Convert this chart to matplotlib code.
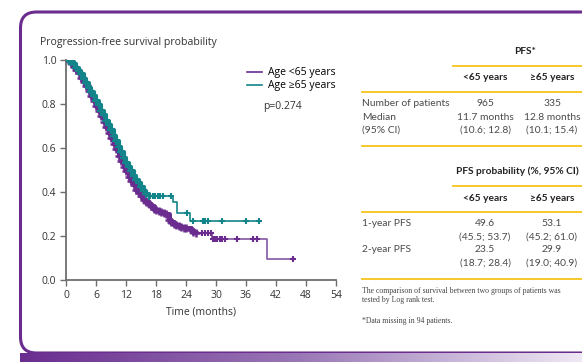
import numpy as np
import matplotlib
matplotlib.use("Agg")
import matplotlib.pyplot as plt
from matplotlib.patches import FancyBboxPatch
from matplotlib.lines import Line2D
from matplotlib.transforms import IdentityTransform
from matplotlib.colors import LinearSegmentedColormap

# ---- Kaplan-Meier estimates (months, survival probability) ----
under65_t = [0, 0.5, 1, 1.5, 2, 2.5, 3, 3.5, 4, 4.5, 5, 5.5, 6, 6.5, 7, 7.5, 8, 8.5, 9, 9.5,
             10, 10.5, 11, 11.5, 12, 12.5, 13, 13.5, 14, 14.5, 15, 15.5, 16, 16.5, 17, 17.5,
             18, 18.5, 19, 19.5, 20, 20.5, 21, 21.5, 22, 22.5, 23, 23.5, 24, 25, 25.5, 26,
             29.3, 40.3, 45.4]
under65_s = [1.0, 0.995, 0.985, 0.97, 0.955, 0.94, 0.92, 0.90, 0.88, 0.86, 0.835, 0.815, 0.79,
             0.77, 0.745, 0.72, 0.695, 0.67, 0.645, 0.62, 0.595, 0.565, 0.54, 0.512, 0.494,
             0.47, 0.45, 0.43, 0.41, 0.395, 0.38, 0.365, 0.355, 0.345, 0.335, 0.325, 0.318,
             0.312, 0.308, 0.305, 0.30, 0.275, 0.262, 0.255, 0.25, 0.245, 0.24, 0.238, 0.235,
             0.228, 0.22, 0.215, 0.186, 0.095, 0.095]
under65_cens = [27.2, 27.8, 28.4, 29.0, 29.4, 29.8, 30.3, 30.8, 31.3, 31.8, 34.2, 37.4, 38.2, 45.4]

over65_t = [0, 0.5, 1, 1.5, 2, 2.5, 3, 3.5, 4, 4.5, 5, 5.5, 6, 6.5, 7, 7.5, 8, 8.5, 9, 9.5,
            10, 10.5, 11, 11.5, 12, 12.5, 13, 13.5, 14, 14.5, 15, 15.5, 16, 16.5,
            21.4, 22.1, 24.8, 38.6]
over65_s = [1.0, 0.995, 0.99, 0.98, 0.965, 0.95, 0.935, 0.915, 0.895, 0.875, 0.855, 0.835,
            0.815, 0.795, 0.77, 0.75, 0.725, 0.705, 0.68, 0.655, 0.63, 0.605, 0.58, 0.555,
            0.531, 0.512, 0.495, 0.475, 0.455, 0.44, 0.425, 0.405, 0.39, 0.383,
            0.356, 0.303, 0.27, 0.27]
over65_cens = [16.8, 17.3, 17.8, 18.3, 18.8, 19.3, 21.0, 24.2, 25.4, 27.4, 27.9, 28.4, 31.2,
               36.0, 38.6]

x_ticks = [0, 6, 12, 18, 24, 30, 36, 42, 48, 54]
y_ticks = [0.0, 0.2, 0.4, 0.6, 0.8, 1.0]

groups = ["<65 years", "\u226565 years"]
n_patients = ["965", "335"]
median_pfs = ["11.7 months", "12.8 months"]
median_ci = ["(10.6; 12.8)", "(10.1; 15.4)"]
pfs_1y = ["49.6", "53.1"]
pfs_1y_ci = ["(45.5; 53.7)", "(45.2; 61.0)"]
pfs_2y = ["23.5", "29.9"]
pfs_2y_ci = ["(18.7; 28.4)", "(19.0; 40.9)"]

PURPLE = "#6a2d8f"
PURPLE_LIGHT = "#8556a6"
TEAL = "#138489"
GOLD = "#f7c41b"

W, H = 582, 362
fig = plt.figure(figsize=(W / 100, H / 100), dpi=100)
fig.patch.set_facecolor("white")


def fx(px):
    return px / W


def fy(py):
    return 1 - py / H


# ---- frame: gradient footer band and rounded purple border ----
band = fig.add_axes([fx(20), fy(362), fx(582) - fx(20), fy(353) - fy(362)])
cmap = LinearSegmentedColormap.from_list("band", [PURPLE, "#9a78b6", "#efe8f4"])
band.imshow(np.linspace(0, 1, 256)[None, :], aspect="auto", cmap=cmap,
            extent=[0, 1, 0, 1])
band.set_axis_off()

frame = FancyBboxPatch((20.5, H - 353), 620, 341, boxstyle="round,pad=0,rounding_size=16",
                       transform=IdentityTransform(), facecolor="white",
                       edgecolor=PURPLE, linewidth=2.2, zorder=0)
fig.add_artist(frame)

# ---- survival plot ----
ax = fig.add_axes([fx(66), fy(280), fx(336) - fx(66), fy(60) - fy(280)])
ax.set_xlim(0, 54)
ax.set_ylim(0, 1.0)
ax.set_facecolor("none")
for side in ("top", "right"):
    ax.spines[side].set_visible(False)
for side in ("left", "bottom"):
    ax.spines[side].set_color("#6e6e6e")
    ax.spines[side].set_linewidth(1.3)
ax.set_xticks(x_ticks)
ax.set_yticks(y_ticks)
ax.set_yticklabels([f"{v:.1f}" for v in y_ticks])
ax.tick_params(direction="out", length=4, width=1, color="#6e6e6e",
               labelsize=7.5, labelcolor="#333333", pad=3)
for lab in ax.get_xticklabels() + ax.get_yticklabels():
    lab.set_fontfamily("Open Sans")
ax.set_xlabel("Time (months)", fontsize=7.5, family="Open Sans", color="#333333", labelpad=4)


def km_value(t_list, s_list, t):
    idx = np.searchsorted(t_list, t, side="right") - 1
    return s_list[idx]


# heavily censored stretch: the overlapping tick marks read as a thick band
u_dense = len(under65_t) - 3
o_dense = len(over65_t) - 4

ax.step(under65_t[u_dense - 1:], under65_s[u_dense - 1:], where="post",
        color=PURPLE_LIGHT, lw=1.2, zorder=3)
ax.step(under65_t[:u_dense], under65_s[:u_dense], where="post", color=PURPLE, lw=3.6,
        zorder=3, solid_capstyle="butt")
ax.plot(under65_t[1:u_dense], under65_s[1:u_dense], ls="none", marker="+", ms=5.5, mew=1.8,
        color=PURPLE, zorder=3)
ax.plot(under65_cens, [km_value(under65_t, under65_s, t) for t in under65_cens], ls="none",
        marker="+", ms=5, mew=1.5, color=PURPLE, zorder=3)

ax.step(over65_t[o_dense - 1:], over65_s[o_dense - 1:], where="post", color=TEAL, lw=1.2,
        zorder=4)
ax.step(over65_t[:o_dense], over65_s[:o_dense], where="post", color=TEAL, lw=3.0, zorder=4,
        solid_capstyle="butt")
ax.plot(over65_t[1:o_dense], over65_s[1:o_dense], ls="none", marker="+", ms=5.5, mew=1.6,
        color=TEAL, zorder=4)
ax.plot(over65_cens, [km_value(over65_t, over65_s, t) for t in over65_cens], ls="none",
        marker="+", ms=5, mew=1.5, color=TEAL, zorder=4)

fig.text(fx(40), fy(43), "Progression-free survival probability", fontsize=7.6,
         family="Open Sans", color="#333333", va="center", ha="left")

handles = [Line2D([], [], color=PURPLE, lw=1.2), Line2D([], [], color=TEAL, lw=1.2)]
fig.legend(handles, ["Age <65 years", "Age \u226565 years"], loc="upper left",
           bbox_to_anchor=(fx(238), fy(58)), frameon=False, handlelength=1.4,
           handletextpad=0.6, labelspacing=0.2,
           prop={"family": "Open Sans", "size": 7.5})
fig.text(fx(263), fy(106), "p=0.274", fontsize=7.5, family="Open Sans", color="#333333",
         va="center", ha="left")

# ---- summary tables ----
TXT = "#4a4a4a"
tfont = dict(family="Lato", fontsize=7.4, color=TXT, va="center")
bfont = dict(family="Lato", fontsize=7.3, color="#222222", va="center", weight="bold")
col_x = [485, 552]


def hline(y, x0, x1=582):
    fig.add_artist(Line2D([fx(x0), fx(x1)], [fy(y), fy(y)], color=GOLD, lw=1.3))


fig.text(fx(525), fy(51), "PFS*", ha="center", **bfont)
hline(66, 453)
for cx, g in zip(col_x, groups):
    fig.text(fx(cx), fy(78), g, ha="center", **bfont)
hline(92, 362)
fig.text(fx(362), fy(103), "Number of patients", ha="left", **tfont)
fig.text(fx(362), fy(117), "Median", ha="left", **tfont)
fig.text(fx(362), fy(130), "(95% CI)", ha="left", **tfont)
for cx, n, m, ci in zip(col_x, n_patients, median_pfs, median_ci):
    fig.text(fx(cx), fy(103), n, ha="center", **tfont)
    fig.text(fx(cx), fy(117), m, ha="center", **tfont)
    fig.text(fx(cx), fy(130), ci, ha="center", **tfont)
hline(146, 362)

fig.text(fx(517), fy(171), "PFS probability (%, 95% CI)", ha="center", **bfont)
hline(186, 453)
for cx, g in zip(col_x, groups):
    fig.text(fx(cx), fy(198), g, ha="center", **bfont)
hline(212, 362)
fig.text(fx(362), fy(224), "1-year PFS", ha="left", **tfont)
fig.text(fx(362), fy(250), "2-year PFS", ha="left", **tfont)
for cx, a, aci, b, bci in zip(col_x, pfs_1y, pfs_1y_ci, pfs_2y, pfs_2y_ci):
    fig.text(fx(cx), fy(224), a, ha="center", **tfont)
    fig.text(fx(cx), fy(237), aci, ha="center", **tfont)
    fig.text(fx(cx), fy(250), b, ha="center", **tfont)
    fig.text(fx(cx), fy(263), bci, ha="center", **tfont)
hline(279, 362)

nfont = dict(family="Liberation Serif", fontsize=5.6, color="#444444", va="center", ha="left")
fig.text(fx(362), fy(291), "The comparison of survival between two groups of patients was", **nfont)
fig.text(fx(362), fy(300), "tested by Log rank test.", **nfont)
fig.text(fx(362), fy(321), "*Data missing in 94 patients.", **nfont)

fig.savefig("out.png", dpi=100, facecolor="white")
